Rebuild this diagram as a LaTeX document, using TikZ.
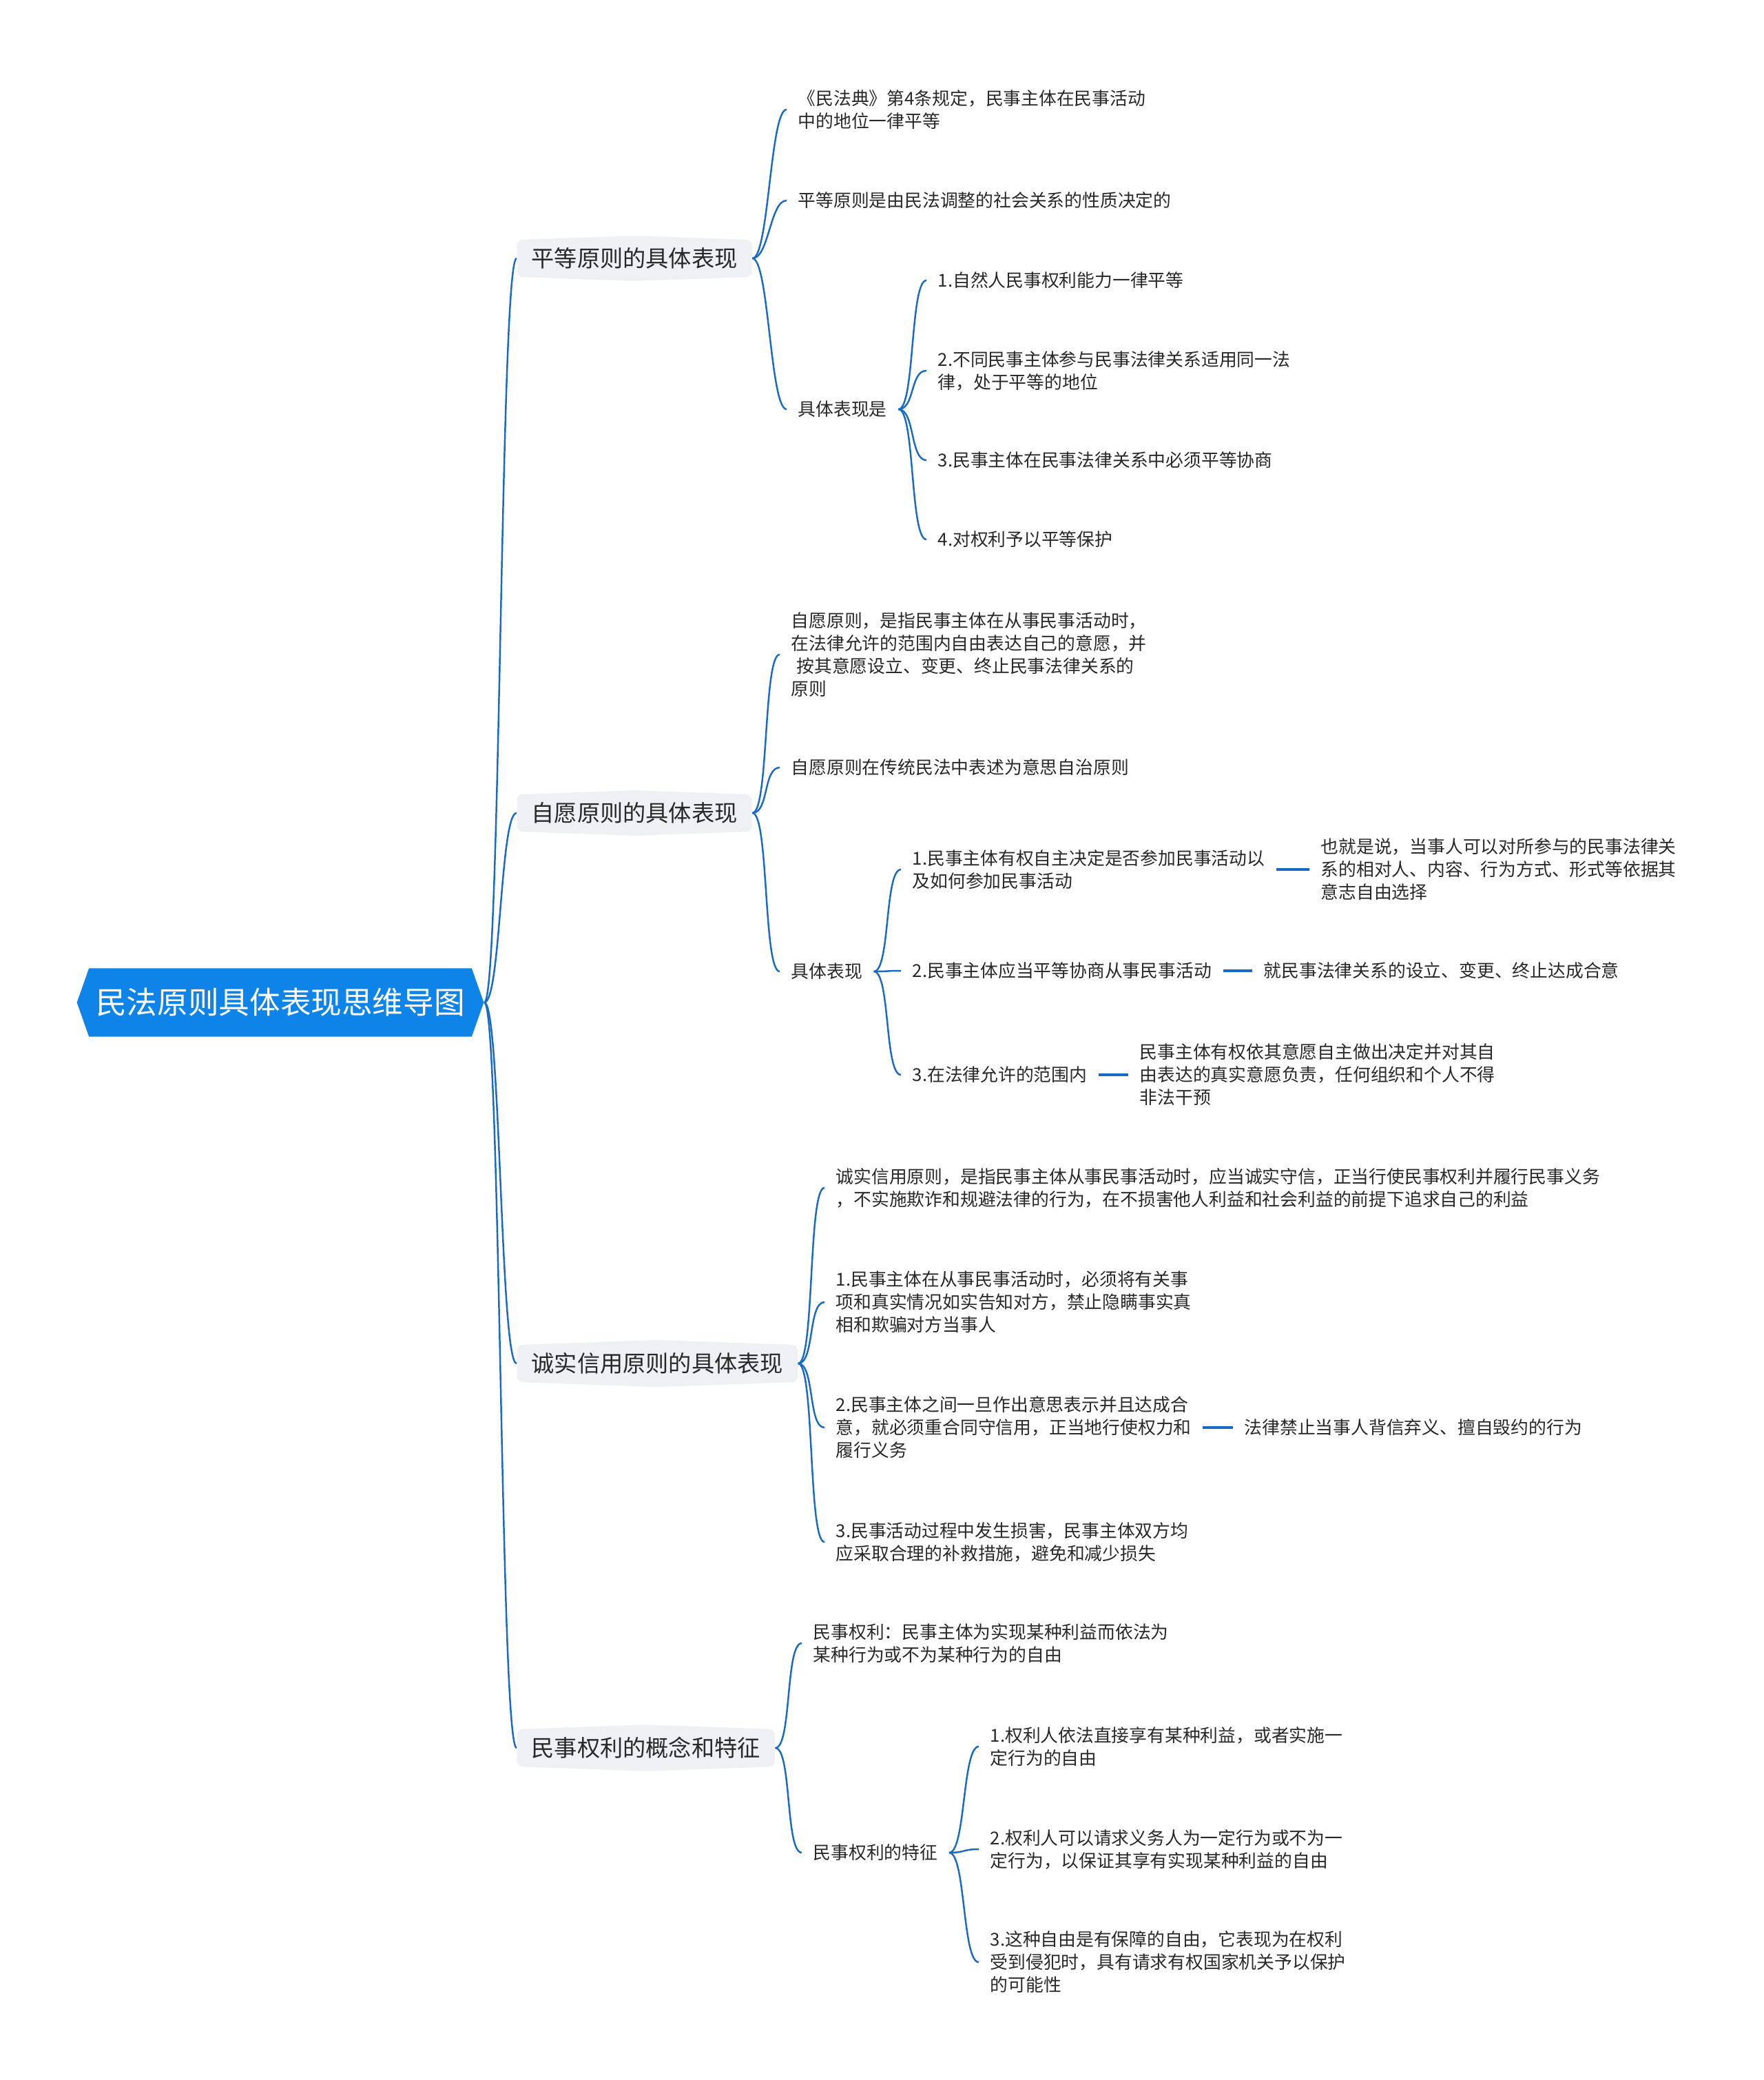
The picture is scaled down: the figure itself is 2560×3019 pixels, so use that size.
\documentclass[tikz,border=0pt]{standalone}
\usepackage{fontspec}
\setmainfont{Noto Sans CJK SC}
\usetikzlibrary{shapes.symbols}

\definecolor{rootblue}{RGB}{14,132,233}
\definecolor{linkblue}{RGB}{24,106,196}
\definecolor{branchgray}{RGB}{238,240,243}
\definecolor{textgray}{RGB}{40,40,40}

\tikzset{
    rootnode/.style={signal, signal to=west and east, signal pointer angle=141,
        fill=rootblue, text=white, inner xsep=1mm, inner ysep=2.9mm,
        font=\fontsize{12.7}{15}\selectfont},
    branchnode/.style={signal, signal to=north and south, signal pointer angle=176,
        rounded corners=0.8mm, fill=branchgray, text=textgray,
        inner xsep=2.1mm, inner ysep=1.15mm, anchor=west,
        font=\fontsize{9.45}{11}\selectfont},
    leaf/.style={text=textgray, align=left, inner xsep=1.6mm, inner ysep=0.5mm,
        anchor=west, font=\fontsize{7.34}{9.39}\selectfont},
    link/.style={linkblue, line width=0.7pt},
    bar/.style={linkblue, line width=0.9pt}
}

\begin{document}
\begin{tikzpicture}[x=0.1mm, y=-0.1mm]
    \useasboundingbox (0,0) rectangle (2560,3019);

    % root and main branches
    \node[rootnode] (root) at (407,1455) {民法原则具体表现思维导图};

    \node[branchnode] (b1) at (750,375) {平等原则的具体表现};
    \node[branchnode] (b2) at (750,1180) {自愿原则的具体表现};
    \node[branchnode] (b3) at (750,1979) {诚实信用原则的具体表现};
    \node[branchnode] (b4) at (750,2537) {民事权利的概念和特征};

    % 平等原则
    \node[leaf] (b1a) at (1142,159) {《民法典》第4条规定，民事主体在民事活动\\中的地位一律平等};
    \node[leaf] (b1b) at (1142,291) {平等原则是由民法调整的社会关系的性质决定的};
    \node[leaf] (b1c) at (1142,594) {具体表现是};
    \node[leaf] (b1c1) at (1345,407) {1.自然人民事权利能力一律平等};
    \node[leaf] (b1c2) at (1345,538) {2.不同民事主体参与民事法律关系适用同一法\\律，处于平等的地位};
    \node[leaf] (b1c3) at (1345,668) {3.民事主体在民事法律关系中必须平等协商};
    \node[leaf] (b1c4) at (1345,783) {4.对权利予以平等保护};

    % 自愿原则
    \node[leaf] (b2a) at (1132,950) {自愿原则，是指民事主体在从事民事活动时，\\在法律允许的范围内自由表达自己的意愿，并\\\hspace*{0.3em}按其意愿设立、变更、终止民事法律关系的\\原则};
    \node[leaf] (b2b) at (1132,1114) {自愿原则在传统民法中表述为意思自治原则};
    \node[leaf] (b2c) at (1132,1410) {具体表现};
    \node[leaf] (b2c1) at (1308,1262) {1.民事主体有权自主决定是否参加民事活动以\\及如何参加民事活动};
    \node[leaf] (b2c2) at (1308,1409) {2.民事主体应当平等协商从事民事活动};
    \node[leaf] (b2c3) at (1308,1560) {3.在法律允许的范围内};
    \node[leaf] (b2c1n) at (1901,1262) {也就是说，当事人可以对所参与的民事法律关\\系的相对人、内容、行为方式、形式等依据其\\意志自由选择};
    \node[leaf] (b2c2n) at (1818,1409) {就民事法律关系的设立、变更、终止达成合意};
    \node[leaf] (b2c3n) at (1638,1560) {民事主体有权依其意愿自主做出决定并对其自\\由表达的真实意愿负责，任何组织和个人不得\\非法干预};

    % 诚实信用原则
    \node[leaf] (b3a) at (1197,1724) {诚实信用原则，是指民事主体从事民事活动时，应当诚实守信，正当行使民事权利并履行民事义务\\，不实施欺诈和规避法律的行为，在不损害他人利益和社会利益的前提下追求自己的利益};
    \node[leaf] (b3b) at (1197,1890) {1.民事主体在从事民事活动时，必须将有关事\\项和真实情况如实告知对方，禁止隐瞒事实真\\相和欺骗对方当事人};
    \node[leaf] (b3c) at (1197,2072) {2.民事主体之间一旦作出意思表示并且达成合\\意，就必须重合同守信用，正当地行使权力和\\履行义务};
    \node[leaf] (b3c1) at (1790,2072) {法律禁止当事人背信弃义、擅自毁约的行为};
    \node[leaf] (b3d) at (1197,2238) {3.民事活动过程中发生损害，民事主体双方均\\应采取合理的补救措施，避免和减少损失};

    % 民事权利
    \node[leaf] (b4a) at (1164,2385) {民事权利：民事主体为实现某种利益而依法为\\某种行为或不为某种行为的自由};
    \node[leaf] (b4b) at (1164,2689) {民事权利的特征};
    \node[leaf] (b4b1) at (1421,2535) {1.权利人依法直接享有某种利益，或者实施一\\定行为的自由};
    \node[leaf] (b4b2) at (1421,2684) {2.权利人可以请求义务人为一定行为或不为一\\定行为，以保证其享有实现某种利益的自由};
    \node[leaf] (b4b3) at (1421,2848) {3.这种自由是有保障的自由，它表现为在权利\\受到侵犯时，具有请求有权国家机关予以保护\\的可能性};

    % curved links
    \foreach \a/\b in {root/b1, root/b2, root/b3, root/b4,
        b1/b1a, b1/b1b, b1/b1c, b1c/b1c1, b1c/b1c2, b1c/b1c3, b1c/b1c4,
        b2/b2a, b2/b2b, b2/b2c, b2c/b2c1, b2c/b2c2, b2c/b2c3,
        b3/b3a, b3/b3b, b3/b3c, b3/b3d,
        b4/b4a, b4/b4b, b4b/b4b1, b4b/b4b2, b4b/b4b3}
        \draw[link] (\a.east) .. controls +(24,0) and +(-24,0) .. (\b.west);

    % straight links to notes
    \foreach \a/\b in {b2c1/b2c1n, b2c2/b2c2n, b2c3/b2c3n, b3c/b3c1}
        \draw[bar] (\a.east) -- (\b.west);
\end{tikzpicture}
\end{document}
